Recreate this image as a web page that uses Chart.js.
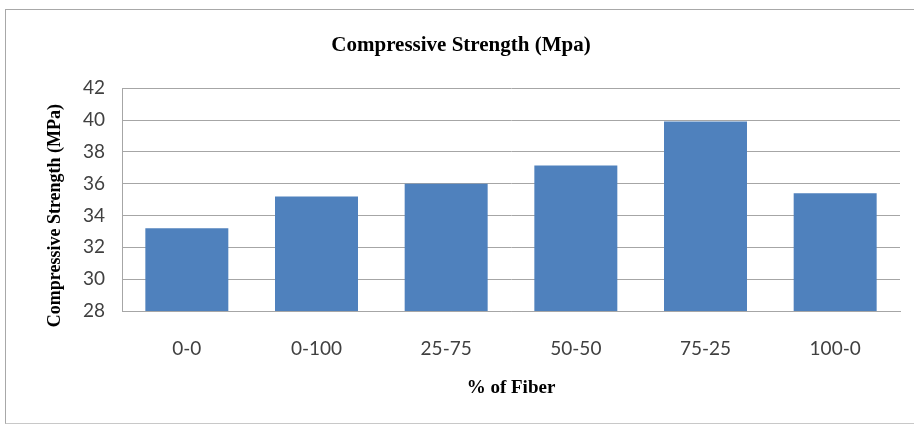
<!DOCTYPE html>
<html>
<head>
<meta charset="utf-8">
<script src="https://cdn.jsdelivr.net/npm/chart.js@4/dist/chart.umd.min.js"></script>
<style>
  html, body { margin: 0; padding: 0; background: #fff; }
  #wrap { position: relative; width: 914px; height: 426px; overflow: hidden; }
  #frame { position: absolute; left: 5px; top: 9px; width: 940px; height: 413px;
           border-left: 1px solid #a8a8a8; border-top: 1px solid #a8a8a8; border-bottom: 1px solid #c8c8c8; }
  canvas { position: absolute; left: 0; top: 0; }
</style>
</head>
<body>
<div id="wrap">
  <div id="frame"></div>
  <canvas id="c" width="914" height="426"></canvas>
</div>
<script>
const categories = ["0-0", "0-100", "25-75", "50-50", "75-25", "100-0"];
const strengthValues = [33.2, 35.2, 36.0, 37.15, 39.9, 35.4];
const yTickMin = 28;
const yTickMax = 42;
const yTickStep = 2;
const chartTitle = "Compressive Strength (Mpa)";
const xAxisTitle = "% of Fiber";
const yAxisTitle = "Compressive Strength (MPa)";

const serif = "'Liberation Serif', 'Times New Roman', serif";
const sans = "Lato, 'Liberation Sans', sans-serif";
const gridColor = "#a6a6a6";

const yTitlePlugin = {
  id: 'yTitle',
  afterDraw(chart) {
    const ctx = chart.ctx;
    const ys = chart.scales.y;
    const area = chart.chartArea;
    ctx.save();
    ctx.font = "bold 18px " + serif;
    ctx.fillStyle = "#000";
    ctx.textAlign = "center";
    ctx.textBaseline = "middle";
    ctx.translate(ys.left + 33, (area.top + area.bottom) / 2 + 16);
    ctx.rotate(-Math.PI / 2);
    ctx.fillText(yAxisTitle, 0, 0);
    ctx.restore();
  }
};

new Chart(document.getElementById('c'), {
  type: 'bar',
  data: {
    labels: categories,
    datasets: [{
      label: yAxisTitle,
      data: strengthValues,
      backgroundColor: '#4f81bd',
      borderWidth: 0,
      barPercentage: 0.64,
      categoryPercentage: 1.0
    }]
  },
  options: {
    responsive: false,
    animation: false,
    layout: { padding: { left: 22, right: 14, top: 0, bottom: 0 } },
    plugins: {
      legend: { display: false },
      tooltip: { enabled: false },
      title: {
        display: true,
        text: chartTitle,
        color: '#000',
        font: { family: serif, size: 21, weight: 'bold', lineHeight: 1.2 },
        padding: { top: 33, bottom: 30 }
      }
    },
    scales: {
      x: {
        grid: { display: false, drawTicks: false },
        border: { display: true, color: gridColor, width: 1 },
        ticks: { color: '#404040', font: { family: sans, size: 19 }, padding: 26, maxRotation: 0 },
        title: {
          display: true,
          text: xAxisTitle,
          color: '#000',
          font: { family: serif, size: 19, weight: 'bold', lineHeight: 1.2 },
          padding: { top: 0, bottom: 27 }
        },
        afterFit(scale) { scale.height = 115; }
      },
      y: {
        min: yTickMin,
        max: yTickMax,
        ticks: { stepSize: yTickStep, color: '#404040', font: { family: sans, size: 19 }, padding: 17 },
        grid: { color: gridColor, lineWidth: 1, drawTicks: false },
        border: { display: true, color: gridColor, width: 1 },
        title: { display: false },
        afterFit(scale) { scale.width = 100; }
      }
    }
  },
  plugins: [yTitlePlugin]
});
</script>
</body>
</html>
